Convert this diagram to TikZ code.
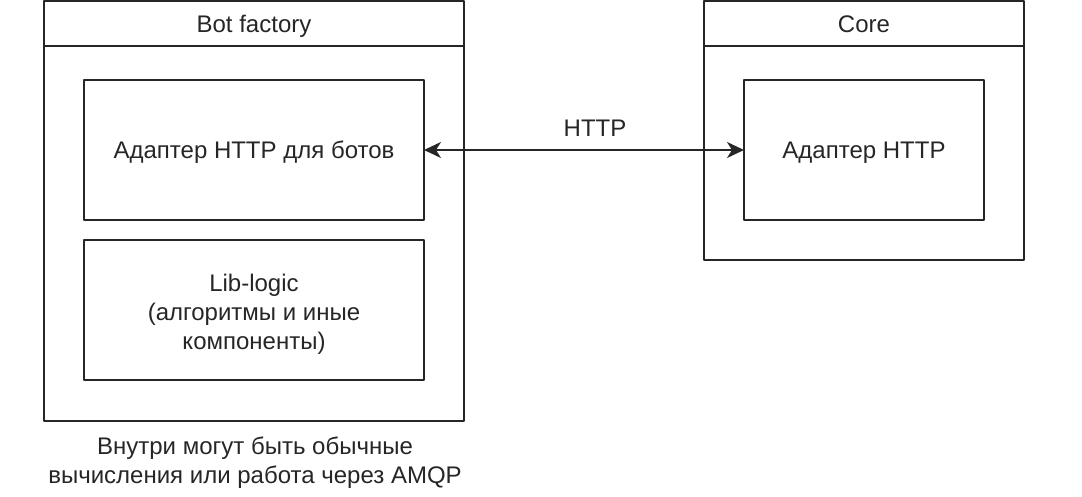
\documentclass[tikz,border=0pt]{standalone}
\usepackage{fontspec}
\setmainfont{Liberation Sans}
\usetikzlibrary{arrows.meta}
\begin{document}
\begin{tikzpicture}[x=1pt,y=-1pt,line join=round,>={Stealth[length=17pt,width=16pt,inset=5pt]},font=\fontsize{24}{29}\selectfont]
	\tikzset{every node/.style={inner sep=0pt,outer sep=0pt,text=black!85}}
	\tikzset{box/.style={draw=black!85,line width=1.6pt,anchor=north west}}
	\def \lw{1.6pt}
	\useasboundingbox (0,0) rectangle (1082,497);
	% containers
	\node[box,minimum width=420,minimum height=420] (bot) at (44,1) {};
	\node[box,minimum width=320,minimum height=259] (core) at (704,1) {};
	\draw[black!85,line width=\lw] (bot.west |- 0,46) -- (bot.east |- 0,46);
	\draw[black!85,line width=\lw] (core.west |- 0,46) -- (core.east |- 0,46);
	\node[anchor=base] (bottitle) at (254,33) {Bot factory};
	\node[anchor=base] (coretitle) at (864,33) {Core};
	% inner boxes
	\node[box,minimum width=340,minimum height=140] (botadapter) at (84,80) {};
	\node[box,minimum width=340,minimum height=140] (liblogic) at (84,240) {};
	\node[box,minimum width=240,minimum height=140] (coreadapter) at (744,80) {};
	\foreach \n/\t in {botadapter/Адаптер HTTP для ботов,coreadapter/Адаптер HTTP}
		\node[anchor=base] at ([yshift=-9]\n.center) {\t};
	\node[align=center] at ([yshift=-4]liblogic.center) {Lib-logic\\(алгоритмы и иные\\компоненты)};
	% link
	\draw[<->,black!85,line width=\lw] (botadapter.east) -- (coreadapter.west);
	\node[anchor=base] (httplabel) at (595,137) {HTTP};
	\node[align=center] (note) at (255,463) {Внутри могут быть обычные\\вычисления или работа через AMQP};
\end{tikzpicture}
\end{document}
